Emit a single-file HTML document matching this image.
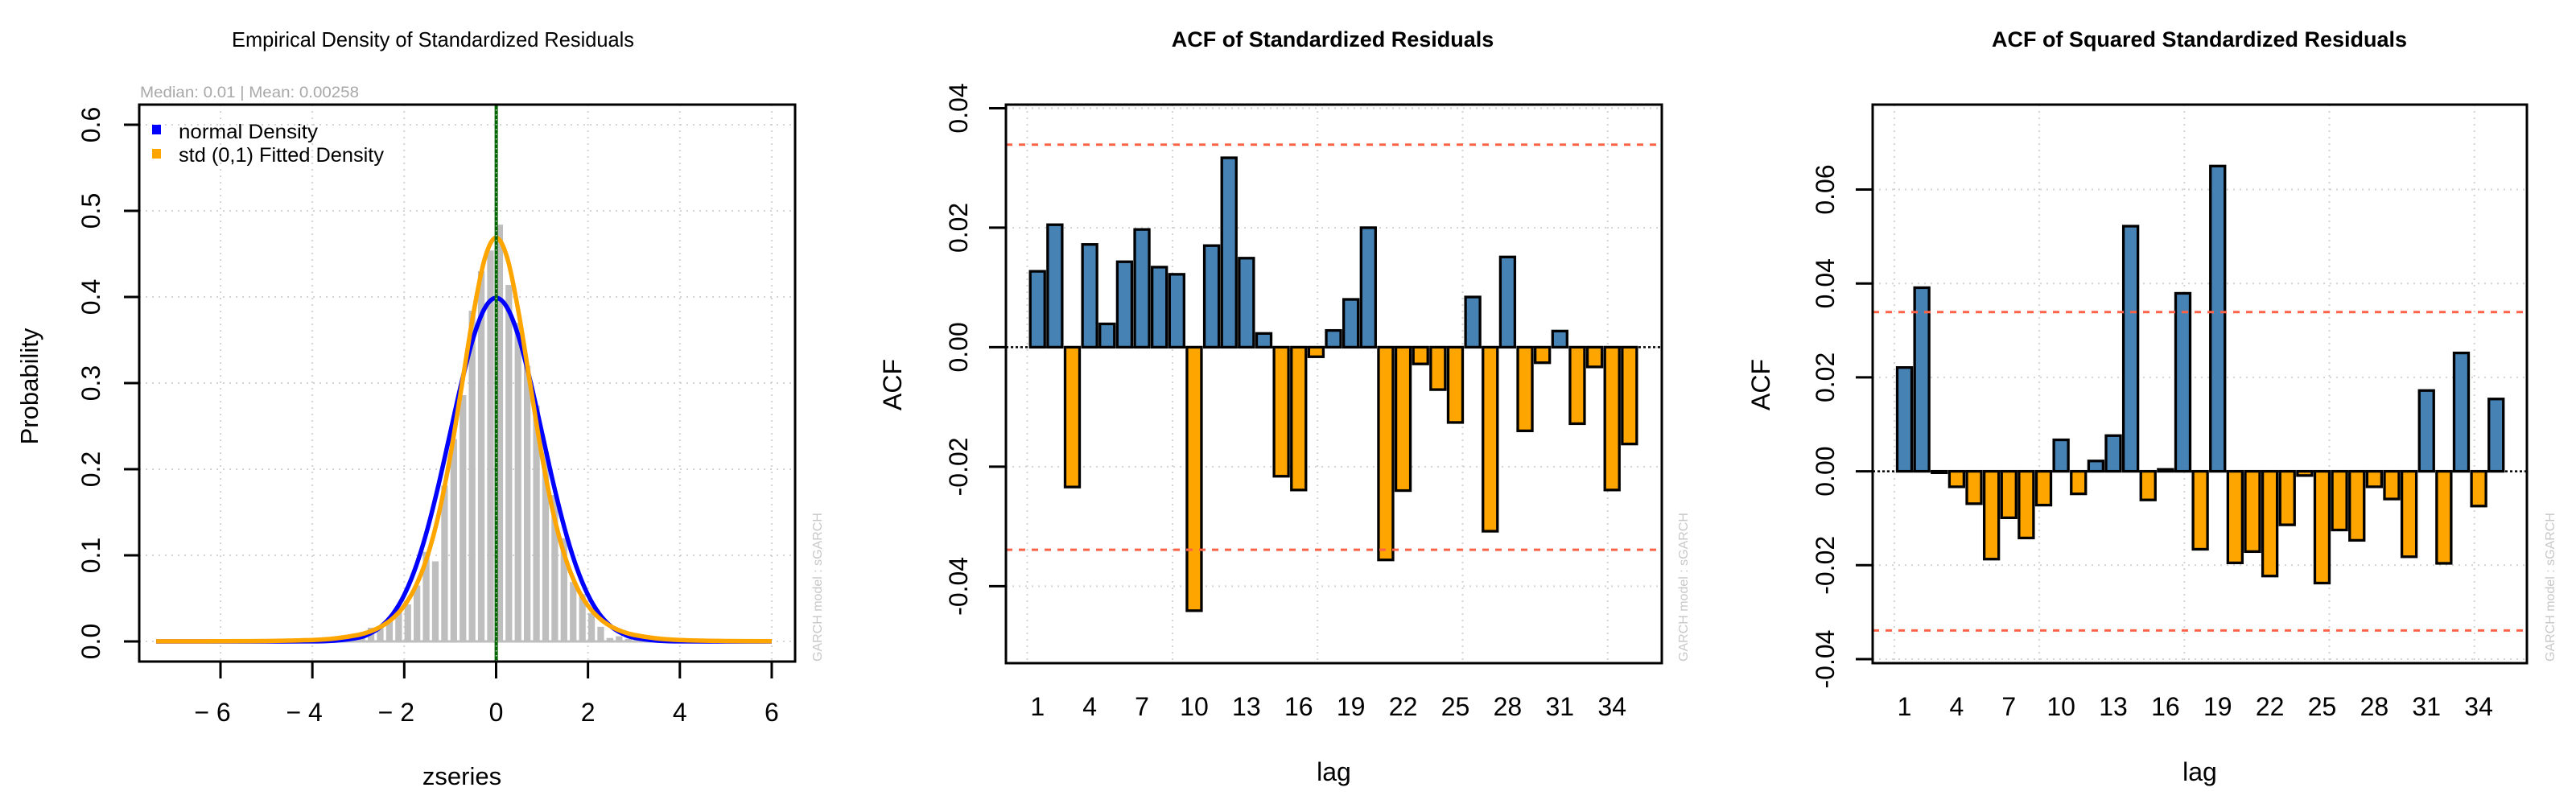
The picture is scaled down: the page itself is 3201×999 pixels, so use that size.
<!DOCTYPE html>
<html><head><meta charset="utf-8">
<style>
html,body{margin:0;padding:0;background:#fff;}
svg{display:block;font-family:"Liberation Sans",sans-serif;}
</style></head>
<body>
<svg id="chart" width="3201" height="999" viewBox="0 0 3201 999" xmlns="http://www.w3.org/2000/svg"></svg>
<script>
// ---------- Panel 1 data ----------
const histBinLefts = [-3.6,-3.4,-3.2,-3.0,-2.8,-2.6,-2.4,-2.2,-2.0,-1.8,-1.6,-1.4,-1.2,-1.0,-0.8,-0.6,-0.4,-0.2,0.0,0.2,0.4,0.6,0.8,1.0,1.2,1.4,1.6,1.8,2.0,2.2,2.4,2.6,2.8,3.0,3.2];
const histDensity = [0.002,0.003,0.005,0.008,0.016,0.018,0.026,0.036,0.043,0.065,0.104,0.093,0.181,0.235,0.286,0.384,0.43,0.454,0.484,0.414,0.37,0.32,0.274,0.22,0.17,0.12,0.069,0.055,0.033,0.017,0.004,0.006,0.003,0.002,0.001];
const curveX = [-7.4,-6,-5,-4,-3.5,-3,-2.75,-2.5,-2.25,-2,-1.75,-1.5,-1.25,-1,-0.75,-0.5,-0.25,0,0.25,0.5,0.75,1,1.25,1.5,1.75,2,2.25,2.5,2.75,3,3.5,4,5,6];
const normalY = [0,0,0.0000015,0.0001,0.0009,0.0044,0.0091,0.0175,0.0317,0.054,0.0863,0.1295,0.1826,0.242,0.3011,0.3521,0.3867,0.3989,0.3867,0.3521,0.3011,0.242,0.1826,0.1295,0.0863,0.054,0.0317,0.0175,0.0091,0.0044,0.0009,0.0001,0.0000015,0];
const stdY = [0.00008,0.00021,0.00046,0.00168,0.0035,0.0076,0.0114,0.0174,0.0268,0.0414,0.0641,0.0983,0.1477,0.2146,0.296,0.379,0.444,0.4688,0.444,0.379,0.296,0.2146,0.1477,0.0983,0.0641,0.0414,0.0268,0.0174,0.0114,0.0076,0.0035,0.00168,0.00046,0.00021];
const p1XTicks = [-6,-4,-2,0,2,4,6];
const p1XTickLabels = ["\u2212 6","\u2212 4","\u2212 2","0","2","4","6"];
const p1YTicks = [0,0.1,0.2,0.3,0.4,0.5,0.6];
const p1YTickLabels = ["0.0","0.1","0.2","0.3","0.4","0.5","0.6"];
// ---------- Panel 2/3 data ----------
const lags = [1,2,3,4,5,6,7,8,9,10,11,12,13,14,15,16,17,18,19,20,21,22,23,24,25,26,27,28,29,30,31,32,33,34,35];
const acfResid = [0.0127,0.0205,-0.0234,0.0172,0.0039,0.0143,0.0197,0.0134,0.0122,-0.0441,0.0170,0.0317,0.0149,0.0023,-0.0216,-0.0239,-0.0016,0.0028,0.0080,0.0200,-0.0356,-0.0240,-0.0028,-0.0071,-0.0126,0.0084,-0.0308,0.0151,-0.0140,-0.0026,0.0027,-0.0128,-0.0033,-0.0239,-0.0162];
const acfSq = [0.0221,0.0391,-0.0003,-0.0033,-0.0069,-0.0187,-0.0099,-0.0142,-0.0072,0.0067,-0.0048,0.0022,0.0076,0.0522,-0.0061,0.0004,0.0379,-0.0166,0.0650,-0.0195,-0.0171,-0.0223,-0.0114,-0.0009,-0.0238,-0.0125,-0.0147,-0.0033,-0.0059,-0.0182,0.0172,-0.0196,0.0252,-0.0074,0.0154];
const confBand = [0.0339];
const lagTickLabels = ["1","4","7","10","13","16","19","22","25","28","31","34"];
const p2YTicks = [-0.04,-0.02,0,0.02,0.04];
const p2YTickLabels = ["-0.04","-0.02","0.00","0.02","0.04"];
const p3YTicks = [-0.04,-0.02,0,0.02,0.04,0.06];
const p3YTickLabels = ["-0.04","-0.02","0.00","0.02","0.04","0.06"];
const xGridUnits = [0,10,20,30,40];

const NS = "http://www.w3.org/2000/svg";
const svg = document.getElementById("chart");
function mk(tag, attrs, parent, text){
  const e = document.createElementNS(NS, tag);
  for (const k in attrs) e.setAttribute(k, attrs[k]);
  if (text !== undefined) e.textContent = text;
  (parent || svg).appendChild(e);
  return e;
}
const GRID = "#d3d3d3";
function smoothPath(pts){
  let d = "M" + pts[0][0] + "," + pts[0][1];
  for (let i=0;i<pts.length-1;i++){
    const p0 = pts[Math.max(0,i-1)], p1 = pts[i], p2 = pts[i+1], p3 = pts[Math.min(pts.length-1,i+2)];
    const c1x = p1[0] + (p2[0]-p0[0])/6, c1y = p1[1] + (p2[1]-p0[1])/6;
    const c2x = p2[0] - (p3[0]-p1[0])/6, c2y = p2[1] - (p3[1]-p1[1])/6;
    d += " C" + c1x + "," + c1y + " " + c2x + "," + c2y + " " + p2[0] + "," + p2[1];
  }
  return d;
}

// ================= PANEL 1 =================
(function(){
  const g = mk("g", {});
  
  
  const L=173,R=988,T=130,B=822;
  const xs = v => 274 + (v+6)*57.08;
  const ys = v => 797 - v*1070;
  let t = mk("text",{x:538,y:58,"text-anchor":"middle","font-size":26,textLength:500,lengthAdjust:"spacingAndGlyphs",fill:"#000"},g,"Empirical Density of Standardized Residuals");
  
  
  t = mk("text",{x:174,y:121,"font-size":19,textLength:272,lengthAdjust:"spacingAndGlyphs",fill:"#a8a8a8"},g,"Median:  0.01 | Mean:  0.00258");
  
  
  p1XTicks.forEach(v=>{
    const l = mk("line",{x1:xs(v),x2:xs(v),y1:T,y2:B,stroke:GRID,"stroke-width":2,"stroke-dasharray":"2,6"},g);
    
    
  });
  p1YTicks.forEach(v=>{
    const l = mk("line",{x1:L,x2:R,y1:ys(v),y2:ys(v),stroke:GRID,"stroke-width":2,"stroke-dasharray":"2,6"},g);
    
    
  });
  let bl = mk("line",{x1:xs(-7.4),x2:xs(6),y1:ys(0),y2:ys(0),stroke:"#bebebe","stroke-width":3},g);
  
  
  histBinLefts.forEach((b,i)=>{
    const x0 = xs(b+0.005), x1 = xs(b+0.15);
    const r = mk("rect",{x:x0,y:ys(histDensity[i]),width:x1-x0,height:ys(0)-ys(histDensity[i]),fill:"#bebebe"},g);
    
    
  });
  let p = mk("path",{d:smoothPath(curveX.map((x,i)=>[xs(x),ys(normalY[i])])),fill:"none",stroke:"#0000ff","stroke-width":5.5},g);
  
  
  p = mk("path",{d:smoothPath(curveX.map((x,i)=>[xs(x),ys(stdY[i])])),fill:"none",stroke:"#ffa500","stroke-width":5.5},g);
  
  
  let ml = mk("line",{x1:xs(0.0026),x2:xs(0.0026),y1:T,y2:B,stroke:"#006400","stroke-width":4},g);
  
  
  ml = mk("line",{x1:xs(0.0026),x2:xs(0.0026),y1:T,y2:B,stroke:GRID,"stroke-width":1.5,"stroke-dasharray":"1.5,4.5"},g);
  
  
  const box = mk("rect",{x:L,y:T,width:R-L,height:B-T,fill:"none",stroke:"#000","stroke-width":3},g);
  
  
  p1YTicks.forEach((v,i)=>{
    const l = mk("line",{x1:L-19,x2:L,y1:ys(v),y2:ys(v),stroke:"#000","stroke-width":3},g);
    
    
    const tx = mk("text",{x:0,y:0,"text-anchor":"middle","font-size":32,transform:"translate(124,"+ys(v)+") rotate(-90)"},g,p1YTickLabels[i]);
    
    
  });
  p1XTicks.forEach((v,i)=>{
    const l = mk("line",{x1:xs(v),x2:xs(v),y1:B,y2:B+21,stroke:"#000","stroke-width":3},g);
    
    
    const tx = mk("text",{x:xs(v)-(i<3?10:0),y:896,"text-anchor":"middle","font-size":32},g,p1XTickLabels[i]);
    
    
  });
  t = mk("text",{x:574,y:975,"text-anchor":"middle","font-size":31},g,"zseries");
  
  
  t = mk("text",{x:0,y:0,"text-anchor":"middle","font-size":31,transform:"translate(47,480) rotate(-90)"},g,"Probability");
  
  
  let s = mk("rect",{x:189,y:155,width:11,height:12,fill:"#0000ff"},g);
  
  
  s = mk("rect",{x:189,y:185,width:11,height:12,fill:"#ffa500"},g);
  
  
  t = mk("text",{x:222,y:172,"font-size":25,textLength:173,lengthAdjust:"spacingAndGlyphs"},g,"normal Density");
  
  
  t = mk("text",{x:222,y:201,"font-size":25,textLength:255,lengthAdjust:"spacingAndGlyphs"},g,"std (0,1) Fitted Density");
  
  
  t = mk("text",{x:0,y:0,"font-size":16,fill:"#c8c8c8",transform:"translate(1021,822) rotate(-90)"},g,"GARCH model : sGARCH");
  
  
})();

// ================= ACF PANELS =================
function acfPanel(cfg){
  const g = mk("g", {});
  
  
  const {L,R,T,B} = cfg;
  const ys = v => cfg.zero - v*cfg.perUnit;
  const xu = u => cfg.u0 + u*cfg.pxPerU;
  const xl = k => xu(1.2*k - 0.5);
  const bw = cfg.pxPerU*1.0;
  let t = mk("text",{x:cfg.titleX,y:58,"text-anchor":"middle","font-size":27,"font-weight":"bold"},g,cfg.title);
  
  
  xGridUnits.forEach(u=>{
    const l = mk("line",{x1:xu(u),x2:xu(u),y1:T,y2:B,stroke:GRID,"stroke-width":2,"stroke-dasharray":"2,6"},g);
    
    
  });
  cfg.yTicks.forEach(v=>{
    const l = mk("line",{x1:L,x2:R,y1:ys(v),y2:ys(v),stroke:GRID,"stroke-width":2,"stroke-dasharray":"2,6"},g);
    
    
  });
  lags.forEach((k,i)=>{
    const v = cfg.values[i];
    const y0 = Math.min(ys(v), ys(0)), h = Math.abs(ys(v)-ys(0));
    const r = mk("rect",{x:xl(k)-bw/2,y:y0,width:bw,height:Math.max(h,0.5),fill:v>=0?"#4682b4":"#ffa500",stroke:"#000","stroke-width":3.3},g);
    
    
  });
  [confBand[0], -confBand[0]].forEach(v=>{
    const l = mk("line",{x1:L,x2:R,y1:ys(v),y2:ys(v),stroke:"#ff6347","stroke-width":3,"stroke-dasharray":"8,8"},g);
    
    
  });
  const z = mk("line",{x1:L,x2:R,y1:ys(0),y2:ys(0),stroke:"#000","stroke-width":2.5,"stroke-dasharray":"3,3"},g);
  
  
  const box = mk("rect",{x:L,y:T,width:R-L,height:B-T,fill:"none",stroke:"#000","stroke-width":3},g);
  
  
  cfg.yTicks.forEach((v,i)=>{
    const l = mk("line",{x1:L-21,x2:L,y1:ys(v),y2:ys(v),stroke:"#000","stroke-width":3},g);
    
    
    const tx = mk("text",{x:0,y:0,"text-anchor":"middle","font-size":32,transform:"translate("+cfg.yLabX+","+ys(v)+") rotate(-90)"},g,cfg.yLabels[i]);
    
    
  });
  lagTickLabels.forEach(s=>{
    const tx = mk("text",{x:xl(+s),y:889,"text-anchor":"middle","font-size":32},g,s);
    
    
  });
  t = mk("text",{x:(L+R)/2,y:970,"text-anchor":"middle","font-size":32},g,"lag");
  
  
  t = mk("text",{x:0,y:0,"text-anchor":"middle","font-size":32,transform:"translate("+cfg.ylabTitleX+",478) rotate(-90)"},g,"ACF");
  
  
  t = mk("text",{x:0,y:0,"font-size":16,fill:"#c8c8c8",transform:"translate("+cfg.wmX+",822) rotate(-90)"},g,"GARCH model : sGARCH");
  
  
}
acfPanel({name:"acf-residuals-panel",title:"ACF of Standardized Residuals",titleX:1656,
  L:1250,R:2065,T:130,B:824,zero:431.4,perUnit:7424,u0:1276.6,pxPerU:18.03,
  values:acfResid,yTicks:p2YTicks,yLabels:p2YTickLabels,yLabX:1202,ylabTitleX:1120,wmX:2097});
acfPanel({name:"acf-squared-residuals-panel",title:"ACF of Squared Standardized Residuals",titleX:2733,
  L:2327,R:3140,T:130,B:824,zero:585.6,perUnit:5835,u0:2353.9,pxPerU:18.02,
  values:acfSq,yTicks:p3YTicks,yLabels:p3YTickLabels,yLabX:2279,ylabTitleX:2199,wmX:3174});
</script>
</body></html>
